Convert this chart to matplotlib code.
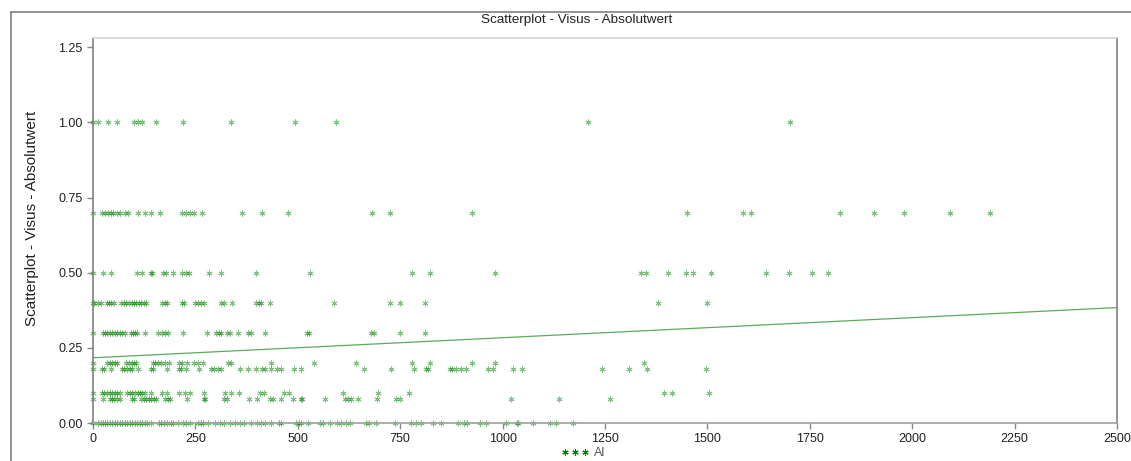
from matplotlib import pyplot as plt
from matplotlib.lines import Line2D
import numpy as np

# x positions (Al) for each Visus level
x_100 = [0, 13, 36, 58, 100, 109, 119, 154, 219, 336, 494, 593, 1208, 1702]
x_070 = [0, 23, 30, 36, 43, 49, 58, 67, 77, 86, 109, 126, 141, 163, 218, 227, 237,
         247, 266, 363, 412, 476, 680, 724, 926, 1449, 1587, 1607, 1823, 1907,
         1979, 2093, 2190]
x_050 = [0, 24, 45, 108, 120, 141, 145, 171, 179, 195, 218, 226, 234, 283, 312, 399,
         529, 780, 822, 982, 1339, 1349, 1404, 1447, 1464, 1508, 1643, 1699, 1756,
         1795]
x_040 = [0, 2, 12, 20, 33, 38, 45, 51, 69, 76, 81, 87, 94, 100, 106, 112, 118, 124,
         130, 168, 175, 181, 217, 222, 248, 256, 264, 271, 313, 320, 340, 399, 405,
         411, 432, 588, 724, 749, 810, 1379, 1498]
x_030 = [0, 24, 30, 35, 41, 46, 53, 59, 65, 71, 77, 92, 98, 102, 107, 126, 158, 168,
         176, 183, 220, 279, 300, 307, 313, 326, 334, 354, 378, 386, 421, 523, 527,
         678, 686, 749, 810]
x_020 = [0, 35, 41, 46, 53, 59, 81, 87, 94, 100, 106, 146, 152, 158, 165, 176, 185,
         209, 217, 230, 247, 256, 269, 329, 336, 434, 539, 641, 779, 822, 925, 982,
         1346]
x_018 = [0, 22, 27, 43, 71, 76, 84, 90, 96, 110, 141, 146, 181, 209, 215, 227, 260,
         287, 295, 305, 312, 358, 378, 399, 413, 419, 435, 450, 460, 491, 507, 661,
         728, 784, 812, 818, 871, 877, 887, 898, 911, 964, 976, 1025, 1047, 1242,
         1309, 1352, 1496]
x_010 = [0, 22, 28, 35, 41, 46, 53, 59, 65, 84, 90, 96, 102, 109, 114, 120, 126, 141,
         168, 181, 209, 224, 238, 271, 323, 336, 356, 407, 417, 466, 478, 610, 697,
         771, 1395, 1414, 1504]
x_008 = [0, 24, 41, 46, 51, 59, 65, 94, 100, 118, 124, 130, 136, 142, 149, 154, 176,
         183, 189, 230, 271, 274, 321, 327, 382, 401, 431, 439, 458, 488, 507, 510,
         567, 616, 622, 630, 647, 694, 740, 749, 1020, 1138, 1262]
x_000 = [0, 12, 19, 24, 30, 35, 41, 46, 53, 59, 65, 71, 77, 84, 90, 95, 102, 108, 114,
         120, 126, 133, 142, 160, 167, 173, 181, 191, 195, 208, 220, 228, 236, 256,
         263, 268, 281, 297, 309, 321, 334, 346, 360, 369, 385, 401, 411, 419, 434,
         453, 460, 496, 502, 507, 526, 553, 561, 578, 596, 605, 618, 627, 667, 673,
         692, 738, 777, 789, 800, 830, 849, 891, 906, 914, 946, 960, 1008, 1034, 1038,
         1073, 1116, 1130, 1171]

visus_levels = [1.0, 0.7, 0.5, 0.4, 0.3, 0.2, 0.18, 0.1, 0.08, 0.0]
x_rows = [x_100, x_070, x_050, x_040, x_030, x_020, x_018, x_010, x_008, x_000]

# fitted line (intercept, slope)
fit_intercept = 0.217
fit_slope = 0.0000668

xticks = [0, 250, 500, 750, 1000, 1250, 1500, 1750, 2000, 2250, 2500]
yticks = [0.0, 0.25, 0.5, 0.75, 1.0, 1.25]

green = "#008000"
ast = (6, 2, 0)

plt.rcParams['font.family'] = ['Liberation Sans', 'DejaVu Sans']

fig = plt.figure(figsize=(11.31, 4.61), dpi=100)
ax = fig.add_axes([93/1131, 1-423/461, 1024/1131, 385/461])

for lvl, xs in zip(visus_levels, x_rows):
    ax.plot(xs, [lvl]*len(xs), ls="none", marker=ast, ms=4.2, mew=0.7,
            color=green, alpha=0.5, clip_on=False)

x_line = np.array([0, 2500])
ax.plot(x_line, fit_intercept + fit_slope*x_line, color=green, lw=0.9, alpha=0.65)

ax.set_xlim(0, 2500)
ax.set_ylim(0, 1.281)
ax.set_xticks(xticks)
ax.set_xticklabels([str(t) for t in xticks])
ax.set_yticks(yticks)
ax.set_yticklabels(["%.2f" % t for t in yticks])
ax.tick_params(labelsize=9, colors="#888888", labelcolor="#222222", length=4, width=1)

ax.spines["left"].set_color("#808080")
ax.spines["right"].set_color("#808080")
ax.spines["bottom"].set_color("#a0a0a0")
ax.spines["top"].set_color("#d4d4d4")
for s in ax.spines.values():
    s.set_linewidth(1.2)

fig.text(577/1131, 1-20/461, "Scatterplot - Visus - Absolutwert", ha="center",
         va="center", fontsize=9.7, color="#222222")
fig.text(32/1131, 1-218/461, "Scatterplot - Visus - Absolutwert", ha="center",
         va="center", rotation=90, fontsize=11, color="#222222")

# outer frame
fig.add_artist(Line2D([11/1131, 1], [1-12/461, 1-12/461], color="#8a8a8a", lw=1.3))
fig.add_artist(Line2D([11/1131, 11/1131], [0, 1-12/461], color="#8a8a8a", lw=1.3))

h = Line2D([], [], ls="none", marker=ast, ms=4.5, mew=0.8, color=green)
fig.legend(handles=[h], labels=["Al"], numpoints=3, loc="center",
           bbox_to_anchor=(583/1131, 1-453/461), frameon=False, fontsize=9,
           handlelength=2.2, handletextpad=0.4, labelcolor="#555555",
           borderpad=0.1)

fig.savefig("out.png", dpi=100)
